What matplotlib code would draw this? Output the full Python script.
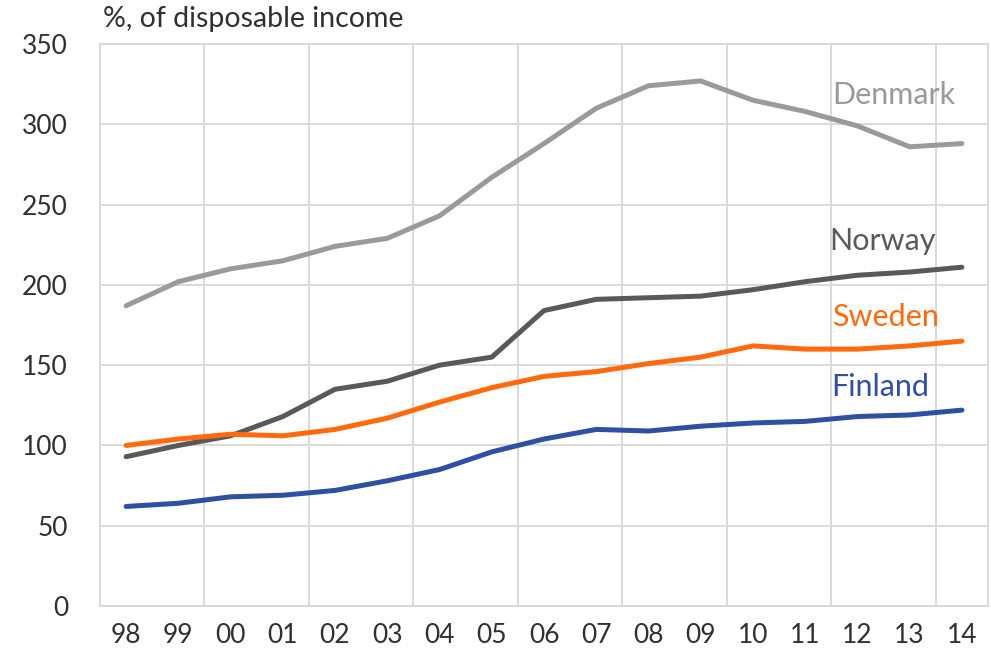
import matplotlib.pyplot as plt

plt.rcParams['font.family'] = ['Lato', 'DejaVu Sans']

# years on the category axis
years = ["98", "99", "00", "01", "02", "03", "04", "05", "06",
         "07", "08", "09", "10", "11", "12", "13", "14"]

# household debt, % of disposable income
denmark = [187, 202, 210, 215, 224, 229, 243, 267, 288, 310, 324, 327, 315, 308, 299, 286, 288]
norway = [93, 100, 106, 118, 135, 140, 150, 155, 184, 191, 192, 193, 197, 202, 206, 208, 211]
sweden = [100, 104, 107, 106, 110, 117, 127, 136, 143, 146, 151, 155, 162, 160, 160, 162, 165]
finland = [62, 64, 68, 69, 72, 78, 85, 96, 104, 110, 109, 112, 114, 115, 118, 119, 122]

c_dk = "#9a9a9a"
c_no = "#595959"
c_se = "#ff6a0d"
c_fi = "#2e4fa3"

fig = plt.figure(figsize=(9.91, 6.64), dpi=100)
ax = fig.add_axes([0.1009, 0.0873, 0.8961, 0.8464])

x = range(len(years))
ax.plot(x, denmark, color=c_dk, lw=3.6, solid_capstyle="round", zorder=3)
ax.plot(x, norway, color=c_no, lw=3.6, solid_capstyle="round", zorder=3)
ax.plot(x, sweden, color=c_se, lw=3.6, solid_capstyle="round", zorder=3)
ax.plot(x, finland, color=c_fi, lw=3.6, solid_capstyle="round", zorder=3)

ax.set_xlim(-0.5, len(years) - 0.5)
ax.set_ylim(0, 350)
ax.set_yticks(range(0, 351, 50))
ax.set_xticks(list(x))
ax.set_xticklabels(years)

# gridlines every second category boundary, plus horizontal ones
ax.set_xticks([i - 0.5 for i in range(0, len(years), 2)], minor=True)
ax.grid(True, which="minor", axis="x", color="#d9d9d9", lw=1.4)
ax.grid(True, which="major", axis="y", color="#d9d9d9", lw=1.4)
ax.grid(False, which="major", axis="x")
ax.set_axisbelow(True)

for s in ax.spines.values():
    s.set_color("#d9d9d9")
    s.set_linewidth(1.4)

ax.tick_params(which="both", length=0)
ax.tick_params(axis="y", pad=23, labelsize=19, labelcolor="#303030")
ax.tick_params(axis="x", pad=12, labelsize=19, labelcolor="#303030")

ax.text(13.51, 312.5, "Denmark", color=c_dk, fontsize=22)
ax.text(13.47, 221.5, "Norway", color=c_no, fontsize=22)
ax.text(13.51, 174.6, "Sweden", color=c_se, fontsize=22)
ax.text(13.49, 130.8, "Finland", color=c_fi, fontsize=22)

fig.text(0.104, 0.952, "%, of disposable income", fontsize=20.5,
         color="#303030", va="bottom")

fig.savefig("out.png", dpi=100)
